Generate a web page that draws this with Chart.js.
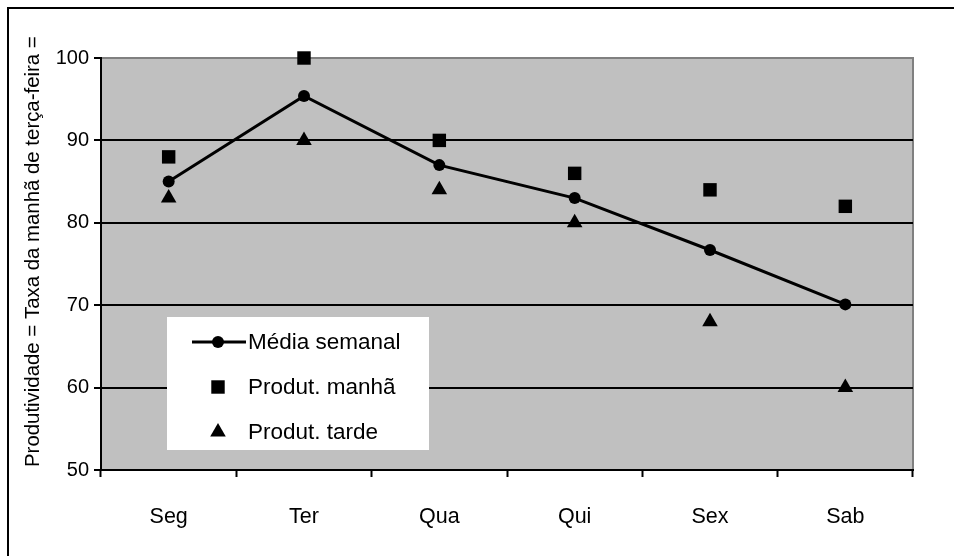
<!DOCTYPE html>
<html>
<head>
<meta charset="utf-8">
<script src="https://cdn.jsdelivr.net/npm/chart.js@4/dist/chart.umd.min.js"></script>
<style>
  body { margin: 0; background: #fff; }
  canvas { display: block; }
</style>
</head>
<body>
<canvas id="chart" width="954" height="556"></canvas>
<script>
const days = ["Seg", "Ter", "Qua", "Qui", "Sex", "Sab"];
const mediaSemanal = [85, 95.4, 87, 83, 76.7, 70.1];
const produtManha = [88, 100, 90, 86, 84, 82];
const produtTarde = [83, 90, 84, 80, 68, 60];
const yTicks = [50, 60, 70, 80, 90, 100];
const yTitle = "Produtividade = Taxa da manhã de terça-feira = 100";

const FONT = '"Liberation Sans", Arial, sans-serif';

// fundo, moldura, area do grafico
const backgroundPlugin = {
  id: "bg",
  beforeDraw(chart) {
    const ctx = chart.ctx;
    const a = chart.chartArea;
    ctx.save();
    ctx.fillStyle = "#fff";
    ctx.fillRect(0, 0, chart.width, chart.height);
    ctx.strokeStyle = "#000";
    ctx.lineWidth = 2;
    ctx.strokeRect(8, 8, 980, 580);
    ctx.fillStyle = "#c0c0c0";
    ctx.fillRect(a.left, a.top, a.right - a.left, a.bottom - a.top);
    ctx.strokeStyle = "#808080";
    ctx.lineWidth = 2;
    ctx.strokeRect(a.left, a.top, a.right - a.left, a.bottom - a.top);
    ctx.restore();
  }
};

// legenda dentro do grafico + titulo do eixo y (cortado em cima)
const legendPlugin = {
  id: "legendBox",
  beforeDatasetsDraw(chart) {
    const ctx = chart.ctx;
    ctx.save();
    ctx.fillStyle = "#fff";
    ctx.fillRect(167, 317, 262, 133);
    ctx.font = "22.5px " + FONT;
    ctx.textAlign = "left";
    ctx.textBaseline = "middle";
    const rows = [342, 387, 432];
    chart.data.datasets.forEach((ds, i) => {
      const y = rows[i];
      if (ds.showLine !== false) {
        ctx.strokeStyle = ds.borderColor;
        ctx.lineWidth = ds.borderWidth;
        ctx.beginPath();
        ctx.moveTo(192, y);
        ctx.lineTo(246, y);
        ctx.stroke();
      }
      ctx.fillStyle = "#000";
      ctx.strokeStyle = "#000";
      Chart.helpers.drawPoint(ctx, {
        pointStyle: ds.pointStyle,
        radius: ds.pointRadius,
        rotation: 0,
        borderWidth: 0
      }, 218, y);
      ctx.fillStyle = "#000";
      ctx.fillText(ds.label, 248, y + 1);
    });
    ctx.restore();
  },
  afterDraw(chart) {
    const ctx = chart.ctx;
    ctx.save();
    ctx.beginPath();
    ctx.rect(0, 29, 100, 520);
    ctx.clip();
    ctx.translate(33, 467);
    ctx.rotate(-Math.PI / 2);
    ctx.font = "20.4px " + FONT;
    ctx.fillStyle = "#000";
    ctx.textAlign = "left";
    ctx.textBaseline = "middle";
    ctx.fillText(yTitle, 0, 0);
    ctx.restore();
  }
};

new Chart(document.getElementById("chart"), {
  type: "line",
  data: {
    labels: days,
    datasets: [
      {
        label: "Média semanal",
        data: mediaSemanal,
        borderColor: "#000",
        backgroundColor: "#000",
        borderWidth: 3,
        pointStyle: "circle",
        pointRadius: 6,
        pointBorderWidth: 0,
        tension: 0,
        clip: false
      },
      {
        label: "Produt. manhã",
        data: produtManha,
        showLine: false,
        borderColor: "#000",
        backgroundColor: "#000",
        pointStyle: "rect",
        pointRadius: 9.5,
        pointBorderWidth: 0,
        clip: false
      },
      {
        label: "Produt. tarde",
        data: produtTarde,
        showLine: false,
        borderColor: "#000",
        backgroundColor: "#000",
        pointStyle: "triangle",
        pointRadius: 9,
        pointBorderWidth: 0,
        clip: false
      }
    ]
  },
  options: {
    responsive: false,
    animation: false,
    layout: { padding: { left: 0, top: 58, right: 41, bottom: 0 } },
    plugins: {
      legend: { display: false },
      tooltip: { enabled: false }
    },
    scales: {
      x: {
        offset: true,
        grid: {
          offset: true,
          drawOnChartArea: false,
          drawTicks: true,
          tickLength: 7,
          tickColor: "#000",
          tickWidth: 2
        },
        border: { color: "#000", width: 2 },
        ticks: {
          color: "#000",
          font: { family: FONT, size: 21.5 },
          padding: 27,
          maxRotation: 0
        },
        afterFit(scale) { scale.height = 86; }
      },
      y: {
        min: 50,
        max: 100,
        afterBuildTicks(scale) {
          scale.ticks = yTicks.map(v => ({ value: v }));
        },
        grid: {
          color: ctx => (ctx.tick && ctx.tick.value === 100) ? "#808080" : "#000",
          lineWidth: 2,
          tickLength: 7,
          tickColor: "#000",
          tickWidth: 2
        },
        border: { color: "#000", width: 2 },
        ticks: {
          color: "#000",
          font: { family: FONT, size: 20 },
          padding: 5
        },
        afterFit(scale) { scale.width = 101; }
      }
    }
  },
  plugins: [backgroundPlugin, legendPlugin]
});
</script>
</body>
</html>
